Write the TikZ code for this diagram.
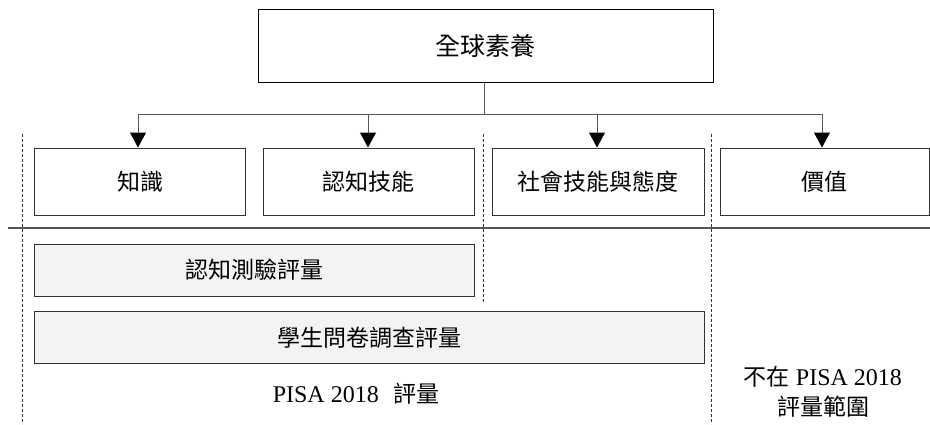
\documentclass[tikz,border=0pt]{standalone}
\usepackage{fontspec}
\setmainfont{Liberation Serif}
\newfontfamily\cjk{Noto Sans CJK TC}
\usetikzlibrary{arrows.meta}
\definecolor{boxline}{HTML}{333333}
\definecolor{conn}{HTML}{555555}
\definecolor{greyfill}{HTML}{F2F3F2}
\tikzset{
  topbox/.style={draw=black, line width=1pt, minimum width=455pt, minimum height=73pt, inner sep=0pt, font=\cjk\fontsize{25}{29}\selectfont},
  rowbox/.style={draw=boxline, line width=1pt, minimum height=67pt, inner sep=0pt, font=\cjk\fontsize{23}{27}\selectfont},
  greybox/.style={draw=boxline, fill=greyfill, line width=1pt, minimum height=52pt, inner sep=0pt, font=\cjk\fontsize{23}{27}\selectfont},
  conline/.style={draw=conn, line width=1pt},
  arr/.style={conn, line width=1pt, -{Triangle[width=16pt,length=15pt,fill=black,color=black]}},
  sep/.style={draw=boxline, line width=0.8pt, dash pattern=on 3pt off 2pt},
  lbl/.style={inner sep=0pt, align=center, font=\fontsize{24}{30}\selectfont}
}
\begin{document}
\begin{tikzpicture}[x=1pt,y=-1pt]
\useasboundingbox (0,0) rectangle (930,424);
% top
\node[topbox] (top) at (485.5,46) {全球素養};
% row boxes
\node[rowbox, minimum width=211pt] (k) at (140,181.5) {知識};
\node[rowbox, minimum width=211pt] (c) at (368.5,181.5) {認知技能};
\node[rowbox, minimum width=212pt] (s) at (598,181.5) {社會技能與態度};
\node[rowbox, minimum width=209pt] (v) at (824.5,181.5) {價值};
% branch
\coordinate (j) at (484,114);
\coordinate (b1) at (138,114);
\coordinate (b2) at (368,114);
\coordinate (b3) at (597,114);
\coordinate (b4) at (822,114);
\draw[conline] (top.south -| j) -- (j);
\draw[conline] (b1) -- (b4);
\draw[arr] (b1) -- (b1 |- k.north);
\draw[arr] (b2) -- (b2 |- c.north);
\draw[arr] (b3) -- (b3 |- s.north);
\draw[arr] (b4) -- (b4 |- v.north);
% separator
\coordinate (h1) at (8,228);
\coordinate (h2) at (930,228);
\draw[draw=conn, line width=1.2pt] (h1) -- (h2);
% dashed
\coordinate (d1a) at (22,134);
\coordinate (d1b) at (22,424);
\coordinate (d2a) at (483,134);
\coordinate (d2b) at (483,302);
\coordinate (d3a) at (711,134);
\coordinate (d3b) at (711,424);
\draw[sep] (d1a) -- (d1b);
\draw[sep] (d2a) -- (d2b);
\draw[sep] (d3a) -- (d3b);
% grey boxes
\node[greybox, minimum width=440pt] (g1) at (254,270) {認知測驗評量};
\node[greybox, minimum width=670pt] (g2) at (369,337.5) {學生問卷調查評量};
% labels
\node[lbl] (p) at (356,394) {PISA 2018\hspace{0.6em}{\cjk\fontsize{23}{27}\selectfont 評量}};
\node[lbl] (n) at (823,392) {{\cjk\fontsize{23}{27}\selectfont 不在} PISA 2018\\{\cjk\fontsize{23}{27}\selectfont 評量範圍}};
\end{tikzpicture}
\end{document}
